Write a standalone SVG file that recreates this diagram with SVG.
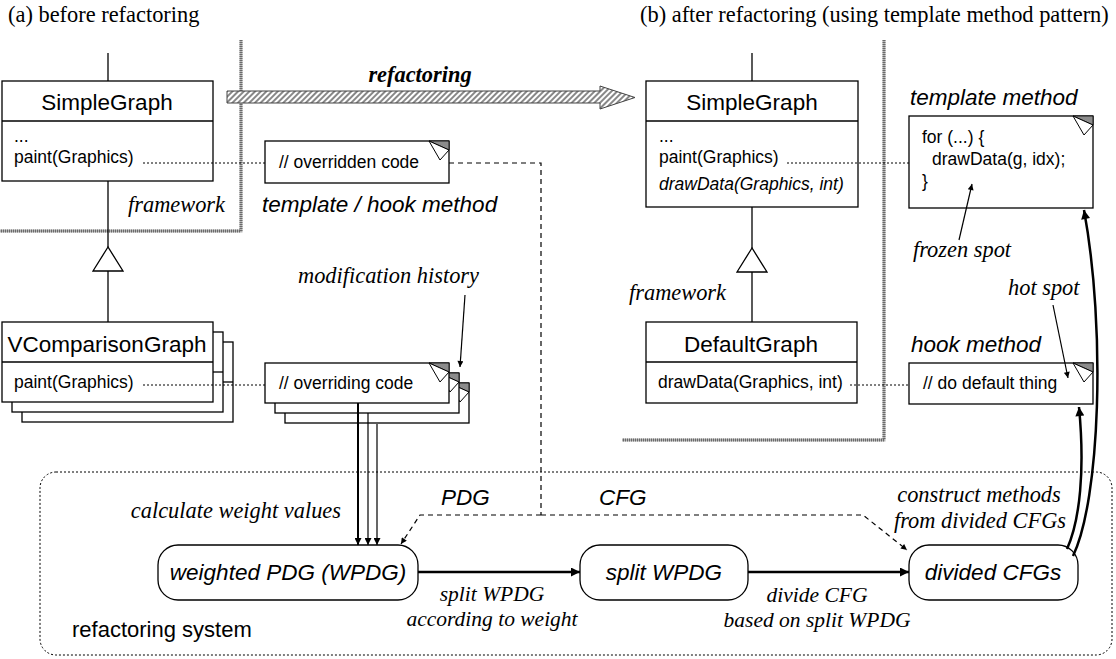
<svg xmlns="http://www.w3.org/2000/svg" width="1116" height="659" viewBox="0 0 1116 659">
<defs>
<style>
.box{fill:#fff;stroke:#000;stroke-width:1.3}
.ln{fill:none;stroke:#000;stroke-width:1.3}
.cls{font-family:"Liberation Sans",Arial,sans-serif;font-size:22.5px;text-anchor:middle}
.mem{font-family:"Liberation Sans",Arial,sans-serif;font-size:17.5px}
.memi{font-family:"Liberation Sans",Arial,sans-serif;font-size:17.5px;font-style:italic}
.lbl{font-family:"Liberation Sans",Arial,sans-serif;font-size:22.5px;font-style:italic}
.ser{font-family:"Liberation Serif","Times New Roman",serif;font-size:22.4px;font-style:italic}
.ser2{font-family:"Liberation Serif","Times New Roman",serif;font-size:21.5px;font-style:italic;text-anchor:middle}
.title{font-family:"Liberation Serif","Times New Roman",serif;font-size:22.4px}
.mid{text-anchor:middle}
.dot{fill:none;stroke:#000;stroke-width:1;stroke-dasharray:2 2}
.dash{fill:none;stroke:#000;stroke-width:1.2;stroke-dasharray:5 4}
.fw{fill:none;stroke:#b5b5b5;stroke-width:3}
.fw2{fill:none;stroke:#6a6a6a;stroke-width:3;stroke-dasharray:1 1}
.thick{fill:none;stroke:#000;stroke-width:2.5}
.thin{fill:none;stroke:#000;stroke-width:1.2}
</style>
<pattern id="hatch" width="4" height="4" patternUnits="userSpaceOnUse" patternTransform="rotate(45)">
<rect width="4" height="4" fill="#fff"/>
<line x1="1" y1="0" x2="1" y2="4" stroke="#555" stroke-width="1.4"/>
</pattern>
<marker id="ah" viewBox="0 0 10 10" refX="10" refY="5" markerWidth="12" markerHeight="9" markerUnits="userSpaceOnUse" orient="auto"><path d="M0,0L10,5L0,10z"/></marker>
<marker id="ahm" viewBox="0 0 10 10" refX="10" refY="5" markerWidth="10" markerHeight="7" markerUnits="userSpaceOnUse" orient="auto"><path d="M0,0L10,5L0,10z"/></marker>
<marker id="ahs" viewBox="0 0 10 10" refX="10" refY="5" markerWidth="9" markerHeight="6" markerUnits="userSpaceOnUse" orient="auto"><path d="M0,0L10,5L0,10z"/></marker>
<g id="ear">
<polygon points="-20,0 0,0 0,9" fill="#8c8c8c" stroke="#000" stroke-width="0.8"/>
<polygon points="-20,0 0,9 -9,19" fill="#fff" stroke="#000" stroke-width="1"/>
</g>
</defs>
<rect width="1116" height="659" fill="#fff"/>

<g id="titles">
<text class="title" x="8" y="22">(a) before refactoring</text>
<text class="title" x="640" y="22">(b) after refactoring (using template method pattern)</text>
</g>

<g id="frameworks">
<path class="fw" d="M241,40 V231 H0"/>
<path class="fw2" d="M241,40 V231 H0"/>
<path class="fw" d="M884,40 V440 H622"/>
<path class="fw2" d="M884,40 V440 H622"/>
<text class="ser" x="128" y="212">framework</text>
<text class="ser" x="629" y="300">framework</text>
</g>

<g id="refactoring-arrow">
<polygon points="227,91 600,91 600,86 635,97.5 600,109 600,103 227,103" fill="url(#hatch)" stroke="#444" stroke-width="1"/>
<text class="ser mid" x="420" y="82" font-weight="bold">refactoring</text>
</g>

<g id="node-simplegraph-a">
<rect class="box" x="2" y="81" width="211" height="100"/>
<line class="ln" x1="2" y1="121" x2="213" y2="121"/>
<text class="cls" x="107" y="110">SimpleGraph</text>
<text class="mem" x="14" y="142">...</text>
<text class="mem" x="14" y="163">paint(Graphics)</text>
</g>

<g id="node-overridden-code">
<rect class="box" x="265" y="141" width="184" height="42"/>
<use href="#ear" x="449" y="141"/>
<text class="mem" x="279" y="168">// overridden code</text>
<text class="lbl" x="262" y="212">template / hook method</text>
</g>

<g id="node-vcomparisongraph">
<rect class="box" x="22" y="342" width="211" height="80"/>
<rect class="box" x="12" y="332" width="211" height="80"/>
<line class="ln" x1="213" y1="372" x2="223" y2="372"/>
<rect class="box" x="2" y="322" width="211" height="80"/>
<line class="ln" x1="223" y1="382" x2="233" y2="382"/>
<line class="ln" x1="2" y1="362" x2="213" y2="362"/>
<text class="cls" x="107" y="352">VComparisonGraph</text>
<text class="mem" x="14" y="388">paint(Graphics)</text>
</g>

<g id="node-overriding-code">
<rect class="box" x="285" y="383" width="184" height="40"/>
<use href="#ear" x="469" y="383"/>
<rect class="box" x="275" y="373" width="184" height="40"/>
<use href="#ear" x="459" y="373"/>
<rect class="box" x="265" y="363" width="184" height="40"/>
<use href="#ear" x="449" y="363"/>
<text class="mem" x="279" y="389">// overriding code</text>
<text class="ser" x="298" y="283">modification history</text>
</g>

<g id="node-simplegraph-b">
<rect class="box" x="646" y="81" width="212" height="126"/>
<line class="ln" x1="646" y1="121" x2="858" y2="121"/>
<text class="cls" x="752" y="110">SimpleGraph</text>
<text class="mem" x="659" y="142">...</text>
<text class="mem" x="659" y="163">paint(Graphics)</text>
<text class="memi" x="659" y="190">drawData(Graphics, int)</text>
</g>

<g id="node-template-method">
<text class="lbl" x="910" y="105" font-size="24">template method</text>
<rect class="box" x="909" y="116" width="184" height="92"/>
<use href="#ear" x="1093" y="116"/>
<text class="mem" x="922" y="143">for (...) {</text>
<text class="mem" x="932" y="165">drawData(g, idx);</text>
<text class="mem" x="922" y="187">}</text>
<text class="ser" x="913" y="257">frozen spot</text>
</g>

<g id="node-defaultgraph">
<rect class="box" x="646" y="322" width="211" height="81"/>
<line class="ln" x1="646" y1="362" x2="857" y2="362"/>
<text class="cls" x="751" y="352">DefaultGraph</text>
<text class="mem" x="658" y="388">drawData(Graphics, int)</text>
</g>

<g id="node-hook-method">
<text class="ser" x="1008" y="295">hot spot</text>
<text class="lbl" x="911" y="352">hook method</text>
<rect class="box" x="909" y="363" width="184" height="41"/>
<use href="#ear" x="1093" y="363"/>
<text class="mem" x="923" y="389">// do default thing</text>
</g>

<g id="refactoring-system">
<rect x="40" y="472" width="1072" height="183" rx="16" fill="none" stroke="#000" stroke-width="1" stroke-dasharray="2 2"/>
<text x="72" y="637" font-family="Liberation Sans, Arial, sans-serif" font-size="22">refactoring system</text>
<text class="ser" x="341" y="518" text-anchor="end">calculate weight values</text>
<text class="lbl" x="441" y="505">PDG</text>
<text class="lbl" x="599" y="505">CFG</text>
<text class="ser2" x="492" y="601">split WPDG</text>
<text class="ser2" x="492" y="626">according to weight</text>
<text class="ser2" x="817" y="602">divide CFG</text>
<text class="ser2" x="817" y="627">based on split WPDG</text>
<text class="ser mid" x="979" y="502">construct methods</text>
<text class="ser mid" x="980" y="528">from divided CFGs</text>
</g>

<g id="node-wpdg">
<rect class="box" x="158" y="545" width="260" height="55" rx="20"/>
<text class="lbl mid" x="288" y="580">weighted PDG (WPDG)</text>
</g>
<g id="node-split-wpdg">
<rect class="box" x="580" y="545" width="168" height="55" rx="20"/>
<text class="lbl mid" x="664" y="580">split WPDG</text>
</g>
<g id="node-divided-cfgs">
<rect class="box" x="909" y="545" width="169" height="55" rx="20"/>
<text class="lbl mid" x="993" y="580">divided CFGs</text>
</g>

<g id="connectors">
<line class="ln" x1="108" y1="53" x2="108" y2="81"/>
<line class="ln" x1="108" y1="181" x2="108" y2="247"/>
<polygon points="108,247 93,271 123,271" class="box"/>
<line class="ln" x1="108" y1="271" x2="108" y2="322"/>
<line class="ln" x1="752" y1="53" x2="752" y2="81"/>
<line class="ln" x1="752" y1="207" x2="752" y2="248"/>
<polygon points="752,248 737,272 767,272" class="box"/>
<line class="ln" x1="752" y1="272" x2="752" y2="322"/>
<line class="dot" x1="143" y1="163" x2="265" y2="163"/>
<line class="dot" x1="143" y1="385" x2="265" y2="385"/>
<line class="dot" x1="787" y1="163" x2="909" y2="163"/>
<line class="dot" x1="850" y1="385" x2="909" y2="385"/>
<path class="dash" d="M449,163 H541 V515"/>
<path class="dash" d="M541,515 H420 L401,544" marker-end="url(#ahs)"/>
<path class="dash" d="M541,515 H863 L907,550" marker-end="url(#ahs)"/>
<line class="thin" x1="465" y1="295" x2="460" y2="367" marker-end="url(#ahs)"/>
<line class="thin" x1="959" y1="240" x2="972" y2="184" marker-end="url(#ahs)"/>
<line class="thin" x1="1053" y1="305" x2="1068" y2="378" marker-end="url(#ahs)"/>
<line x1="358" y1="403" x2="358" y2="545" stroke="#000" stroke-width="2" marker-end="url(#ahm)"/>
<line x1="368" y1="413" x2="368" y2="545" stroke="#000" stroke-width="1.2" marker-end="url(#ahm)"/>
<line x1="377" y1="424" x2="377" y2="545" stroke="#000" stroke-width="1.2" marker-end="url(#ahm)"/>
<line class="thick" x1="418" y1="572" x2="580" y2="572" marker-end="url(#ah)"/>
<line class="thick" x1="748" y1="572" x2="909" y2="572" marker-end="url(#ah)"/>
<path class="thick" d="M1067,549 C1080,520 1085,470 1079,407" marker-end="url(#ah)"/>
<path class="thick" d="M1073,556 C1100,500 1106,330 1084,210" marker-end="url(#ah)"/>
</g>
</svg>
